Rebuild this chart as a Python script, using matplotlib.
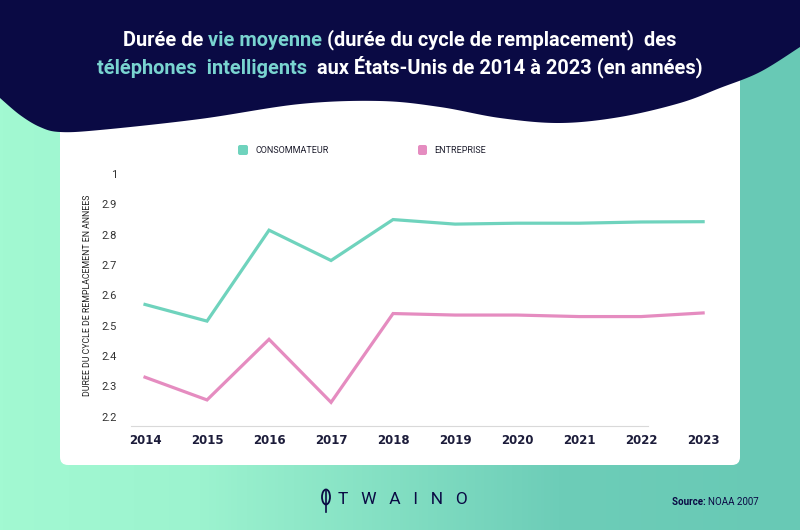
import numpy as np
import matplotlib
matplotlib.use("Agg")
from matplotlib import pyplot as plt
from matplotlib.patches import Polygon, FancyBboxPatch, Ellipse
from matplotlib.colors import LinearSegmentedColormap

# data
years = ["2014", "2015", "2016", "2017", "2018", "2019", "2020", "2021", "2022", "2023"]
consommateur = [2.57, 2.515, 2.815, 2.715, 2.85, 2.835, 2.838, 2.838, 2.842, 2.843]
entreprise = [2.33, 2.255, 2.455, 2.247, 2.54, 2.535, 2.535, 2.53, 2.53, 2.542]
y_ticks = [2.2, 2.3, 2.4, 2.5, 2.6, 2.7, 2.8, 2.9, 3.0]
y_labels = ["2.2", "2.3", "2.4", "2.5", "2.6", "2.7", "2.8", "2.9", "1"]

NAVY = "#0a0a44"
TEAL = "#6fd3bd"
PINK = "#e58cc0"
TITLE_TEAL = "#79d4d0"
FONT = ["Roboto", "DejaVu Sans"]

W, H = 800, 530
fig = plt.figure(figsize=(8, 5.3), dpi=100)

# background in pixel coords
bg = fig.add_axes([0, 0, 1, 1])
bg.set_xlim(0, W)
bg.set_ylim(H, 0)
bg.axis("off")
cmap = LinearSegmentedColormap.from_list(
    "bg", [(0, "#a2f9d2"), (0.25, "#9cf3cf"), (0.7, "#6dcdb8"), (1, "#68c9b5")])
grad = np.linspace(0, 1, 256).reshape(1, -1)
bg.imshow(grad, cmap=cmap, extent=[0, W, H, 0], aspect="auto", zorder=0)

bg.add_patch(FancyBboxPatch((60, 70), 680, 395, boxstyle="round,pad=0,rounding_size=8",
                            facecolor="white", edgecolor="none", zorder=1))


def catmull(pts, n=20):
    # smooth curve through the wave control points
    p = np.array(pts, dtype=float)
    p = np.vstack([p[0], p, p[-1]])
    out = []
    t = np.linspace(0, 1, n, endpoint=False)[:, None]
    for i in range(1, len(p) - 2):
        p0, p1, p2, p3 = p[i - 1], p[i], p[i + 1], p[i + 2]
        out.append(0.5 * ((2 * p1) + (-p0 + p2) * t + (2 * p0 - 5 * p1 + 4 * p2 - p3) * t ** 2
                          + (-p0 + 3 * p1 - 3 * p2 + p3) * t ** 3))
    out.append(p[-2][None, :])
    return np.vstack(out)


edge = [(800, 47), (760, 72), (720, 88), (680, 103), (620, 117), (560, 123), (500, 118),
        (440, 107), (380, 101), (300, 104), (200, 119), (100, 130), (60, 132), (40, 127),
        (20, 115), (0, 98)]
wave = np.vstack([[[0, 0], [800, 0]], catmull(edge)])
bg.add_patch(Polygon(wave, closed=True, facecolor=NAVY, edgecolor="none", zorder=2))


def colored_line(parts, y, size):
    first = bg.text(0, y, parts[0][0], color=parts[0][1], fontsize=size,
                    fontweight="bold", family=FONT, va="center", ha="left", zorder=5)
    prev = first
    for s, c in parts[1:]:
        prev = bg.annotate(s, xy=(1, 0), xycoords=prev, va="bottom", ha="left",
                           color=c, fontsize=size, fontweight="bold", family=FONT, zorder=5)
    return first, prev


lines = [
    ([("Durée de ", "white"), ("vie moyenne", TITLE_TEAL),
      (" (durée du cycle de remplacement)  des", "white")], 40),
    ([("téléphones  intelligents", TITLE_TEAL),
      ("  aux États-Unis de 2014 à 2023 (en années)", "white")], 68),
]
made = [colored_line(p, y, 14.4) for p, y in lines]
fig.canvas.draw()
r = fig.canvas.get_renderer()
inv = bg.transData.inverted()
for first, last in made:
    x0 = inv.transform(first.get_window_extent(r).p0)[0]
    x1 = inv.transform(last.get_window_extent(r).p1)[0]
    first.set_x(W / 2 - (x1 - x0) / 2)

# legend
bg.add_patch(FancyBboxPatch((238, 145), 10, 10, boxstyle="round,pad=0,rounding_size=2",
                            facecolor=TEAL, edgecolor="none", zorder=3))
bg.text(255, 150.5, "CONSOMMATEUR", fontsize=6.5, family=FONT, color="#1e1e2e",
        va="center", ha="left", zorder=3)
bg.add_patch(FancyBboxPatch((418, 145), 9, 10, boxstyle="round,pad=0,rounding_size=2",
                            facecolor=PINK, edgecolor="none", zorder=3))
bg.text(434, 150.5, "ENTREPRISE", fontsize=6.5, family=FONT, color="#1e1e2e",
        va="center", ha="left", zorder=3)

# footer
bg.add_patch(Ellipse((326, 497), 8, 15, facecolor="none", edgecolor=NAVY, lw=1.3, zorder=3))
bg.plot([326, 326], [491, 512], color=NAVY, lw=1.2, zorder=3)
bg.text(338, 500, "T   W   A   I   N   O", fontsize=12.5, family=FONT,
        color=NAVY, va="center", ha="left", zorder=3)
src = bg.text(672, 502, "Source: ", fontsize=7, fontweight="bold", family=FONT,
              color=NAVY, va="center", ha="left", zorder=3)
bg.annotate("NOAA 2007", xy=(1, 0), xycoords=src, va="bottom", ha="left", fontsize=7,
            family=FONT, color=NAVY, zorder=3)

# chart
ax = fig.add_axes([131 / W, 1 - 425.7 / H, (718 - 131) / W, (425.7 - 165) / H])
ax.patch.set_alpha(0)
x = np.arange(len(years))
ax.plot(x, consommateur, color=TEAL, lw=2.3, solid_joinstyle="miter")
ax.plot(x, entreprise, color=PINK, lw=2.3, solid_joinstyle="miter")
ax.set_xlim(-0.226, 9.24)
ax.set_ylim(2.17, 3.03)
for s in ["top", "right", "left"]:
    ax.spines[s].set_visible(False)
ax.spines["bottom"].set_color("#d9d9d9")
ax.spines["bottom"].set_bounds(-0.226, 8.11)
ax.set_xticks(x)
ax.set_xticklabels(years, fontsize=8.5, fontweight="bold", color="#1c1c3a")
ax.set_yticks(y_ticks)
ax.set_yticklabels(y_labels, fontsize=8, family=FONT, color="#333333")
ax.tick_params(axis="both", length=0)
ax.tick_params(axis="y", pad=10)
ax.tick_params(axis="x", pad=6)
ax.set_ylabel("DUREE DU CYCLE DE REMPLACEMENT EN ANNEES", fontsize=6.3, family=FONT,
              color="#222222", labelpad=7)

fig.savefig("out.png", dpi=100)
